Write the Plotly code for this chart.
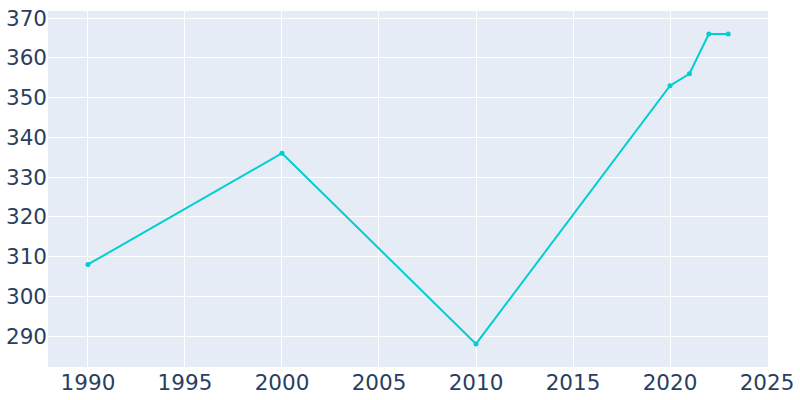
import plotly.graph_objects as go

years = [1990, 2000, 2010, 2020, 2021, 2022, 2023]
population = [308, 336, 288, 353, 356, 366, 366]

fig = go.Figure(go.Scatter(
    x=years, y=population, mode="lines+markers",
    line=dict(color="#00CED1", width=2),
    marker=dict(color="#00CED1", size=5),
))
fig.update_layout(
    width=800, height=400,
    margin=dict(l=48, r=32, t=11, b=33, autoexpand=False),
    template="plotly",
    font=dict(family="DejaVu Sans", size=21.5, color="#2a3f5f"),
    showlegend=False,
)
fig.update_xaxes(range=[1987.94, 2025.05], dtick=5, tick0=1990, automargin=False)
fig.update_yaxes(range=[282.2, 371.8], dtick=10, automargin=False)
fig.write_html("out.html", config={"displayModeBar": False},
               post_script="document.body.style.margin='0';")
